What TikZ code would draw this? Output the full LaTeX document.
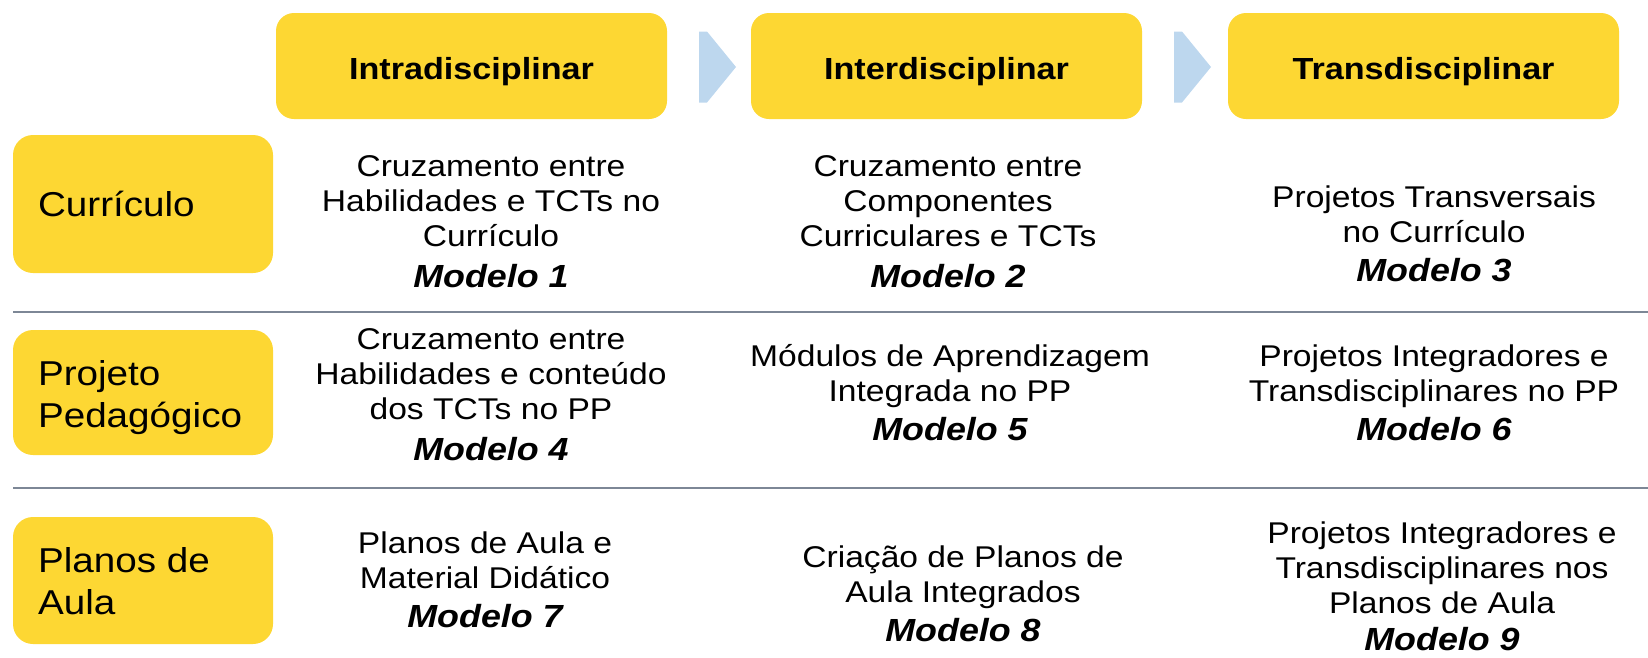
\documentclass[tikz,border=0pt]{standalone}
\usepackage{fontspec}
\setmainfont{Liberation Sans}[FakeStretch=1.12]
\definecolor{ylw}{RGB}{253,215,51}
\definecolor{arr}{RGB}{189,215,238}
\definecolor{sep}{RGB}{125,135,150}
\newcommand{\modf}{\fontsize{32}{35}\selectfont\bfseries\itshape}
\begin{document}
\begin{tikzpicture}[x=1pt,y=-1pt,
  hdr/.style={fill=ylw, rounded corners=18pt, minimum width=391pt, minimum height=106pt, inner sep=0pt, text height=34pt, text depth=6.5pt, font=\fontsize{30.5}{35}\selectfont\bfseries},
  rowbox/.style={fill=ylw, rounded corners=20pt, minimum width=260pt, inner sep=0pt},
  rowlab/.style={anchor=west, align=left, inner sep=0pt, font=\fontsize{34.5}{42}\selectfont},
  cell/.style={align=center, inner sep=0pt, font=\fontsize{30}{35}\selectfont},
  chev/.style={fill=arr, draw=none},
  sepline/.style={draw=sep, line width=1.6pt}
]
\useasboundingbox (0,0) rectangle (1648,657);

% header boxes
\node[hdr] (h1) at (471.5,66) {Intradisciplinar};
\node[hdr] (h2) at (946.5,66) {Interdisciplinar};
\node[hdr] (h3) at (1423.5,66) {Transdisciplinar};

% chevrons between headers
\coordinate (c1) at (699,67);
\coordinate (c2) at (1174,67);
\foreach \c in {c1,c2}{
  \fill[chev] (\c) ++(0,-35.5) -- ++(8,0) -- ++(29,35.5) -- ++(-29,35.5) -- ++(-8,0) -- cycle;
}

% row boxes
\node[rowbox, minimum height=138pt] (r1) at (143,204) {};
\node[rowbox, minimum height=125pt] (r2) at (143,392.5) {};
\node[rowbox, minimum height=127pt] (r3) at (143,580.5) {};
\node[rowlab] (l1) at ([xshift=25pt]r1.west) {Currículo};
\node[rowlab] (l2) at ([xshift=25pt,yshift=-5pt]r2.west) {Projeto\\Pedagógico};
\node[rowlab] (l3) at ([xshift=25pt,yshift=-1pt]r3.west) {Planos de\\Aula};

% separators
\coordinate (s1a) at (13,312); \coordinate (s1b) at (1648,312);
\coordinate (s2a) at (13,488); \coordinate (s2b) at (1648,488);
\draw[sepline] (s1a) -- (s1b);
\draw[sepline] (s2a) -- (s2b);

% cells
\node[cell] (m1) at (491,222) {Cruzamento entre\\Habilidades e TCTs no\\Currículo\\[6pt]{\modf Modelo 1}};
\node[cell] (m2) at (948,222) {Cruzamento entre\\Componentes\\Curriculares e TCTs\\[6pt]{\modf Modelo 2}};
\node[cell] (m3) at (1434,234) {Projetos Transversais\\no Currículo\\[4pt]{\modf Modelo 3}};
\node[cell] (m4) at (491,395) {Cruzamento entre\\Habilidades e conteúdo\\dos TCTs no PP\\[6pt]{\modf Modelo 4}};
\node[cell] (m5) at (950,393) {Módulos de Aprendizagem\\Integrada no PP\\[4pt]{\modf Modelo 5}};
\node[cell] (m6) at (1434,393) {Projetos Integradores e\\Transdisciplinares no PP\\[4pt]{\modf Modelo 6}};
\node[cell] (m7) at (485,580) {Planos de Aula e\\Material Didático\\[4pt]{\modf Modelo 7}};
\node[cell] (m8) at (963,594) {Criação de Planos de\\Aula Integrados\\[4pt]{\modf Modelo 8}};
\node[cell] (m9) at (1442,586) {Projetos Integradores e\\Transdisciplinares nos\\Planos de Aula\\[2pt]{\modf Modelo 9}};
\end{tikzpicture}
\end{document}
